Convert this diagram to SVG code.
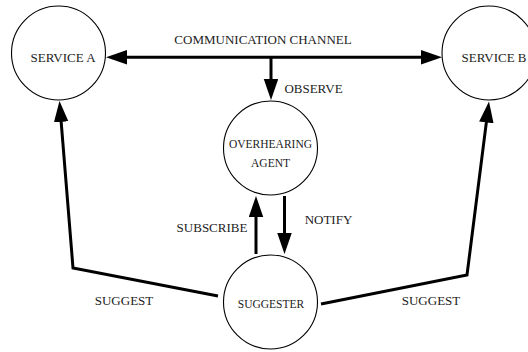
<svg xmlns="http://www.w3.org/2000/svg" width="528" height="352" viewBox="0 0 528 352">
<style>
.node{fill:#fff;stroke:#000;stroke-width:1.1}
.lbl{font-family:"Liberation Serif","Times New Roman",serif;font-size:13px;fill:#222;text-anchor:middle}
.nlbl{font-family:"Liberation Serif","Times New Roman",serif;font-size:11.5px;fill:#222;text-anchor:middle}
.edge{fill:none;stroke:#000;stroke-width:3;stroke-linejoin:miter}
</style>
<defs>
<marker id="ah" markerUnits="userSpaceOnUse" markerWidth="22" markerHeight="15" refX="2" refY="7.25" orient="auto-start-reverse">
<path d="M0,0 L21,7.25 L0,14.5 z" fill="#000"/>
</marker>
</defs>
<rect width="528" height="352" fill="#fff"/>
<g id="connectors">
<line class="edge" x1="125" y1="57.3" x2="423" y2="57.3" marker-start="url(#ah)" marker-end="url(#ah)"/>
<text class="lbl" x="263" y="44">COMMUNICATION CHANNEL</text>
<line class="edge" x1="271" y1="57" x2="271" y2="81" marker-end="url(#ah)"/>
<text class="lbl" x="313.5" y="93" >OBSERVE</text>
<line class="edge" x1="256" y1="254" x2="256" y2="215" marker-end="url(#ah)"/>
<text class="lbl" x="212" y="231.5">SUBSCRIBE</text>
<line class="edge" x1="284.5" y1="196" x2="284.5" y2="235" marker-end="url(#ah)"/>
<text class="lbl" x="328.5" y="224">NOTIFY</text>
<polyline class="edge" points="218,296 73,268 61,119.9" marker-end="url(#ah)"/>
<text class="lbl" x="124" y="305">SUGGEST</text>
<polyline class="edge" points="321,304 467,275 486.6,120.4" marker-end="url(#ah)"/>
<text class="lbl" x="431" y="305">SUGGEST</text>
</g>
<g id="service-a">
<circle class="node" cx="58.5" cy="53" r="47"/>
<text class="lbl" x="63" y="61.5">SERVICE A</text>
</g>
<g id="service-b">
<circle class="node" cx="489" cy="53" r="47"/>
<text class="lbl" x="494" y="61.5">SERVICE B</text>
</g>
<g id="overhearing-agent">
<circle class="node" cx="270.5" cy="148" r="47"/>
<text class="nlbl" x="270.5" y="148">OVERHEARING</text>
<text class="nlbl" x="270.5" y="167">AGENT</text>
</g>
<g id="suggester">
<circle class="node" cx="270.5" cy="302" r="47"/>
<text class="nlbl" x="271" y="308">SUGGESTER</text>
</g>
</svg>
